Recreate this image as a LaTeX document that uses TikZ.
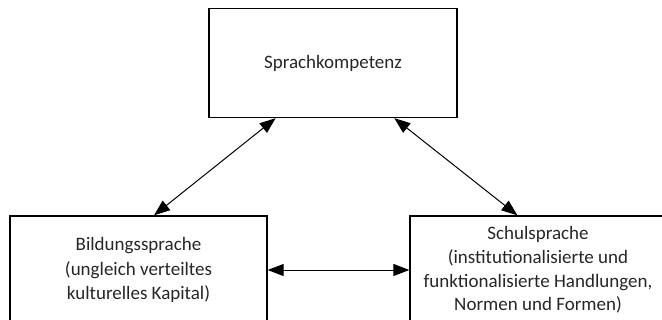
\documentclass[tikz,border=0pt]{standalone}
\usepackage{fontspec}
\setmainfont{Carlito}
\usetikzlibrary{arrows.meta,calc}

\begin{document}
\begin{tikzpicture}
[   x=0.5pt, y=-0.5pt,
    box/.style={draw, line width=0.65pt, rectangle, align=center, inner sep=0,
        text=black!85, font=\fontsize{9.5pt}{11.8pt}\selectfont},
    dblarrow/.style={line width=0.5pt,
        {Triangle[length=8pt,width=6pt]}-{Triangle[length=8pt,width=6pt]}}
]
    \useasboundingbox (0,0) rectangle (662,320);
    \clip (0,0) rectangle (662,320);

    \node[box, minimum width=124pt, minimum height=54.5pt] (kompetenz) at (333,63)
        {Sprachkompetenz};
    \node[box, minimum width=128.5pt, minimum height=54pt,
        font=\fontsize{9.5pt}{12.3pt}\selectfont] (bildung) at (138.5,270)
        {Bildungssprache\\(ungleich verteiltes\\kulturelles Kapital)};
    \node[box, minimum width=128pt, minimum height=54pt] (schule) at (538,270)
        {Schulsprache\\(institutionalisierte und\\funktionalisierte Handlungen,\\Normen und Formen)};

    % Verbindungen
    \draw[dblarrow] ($(kompetenz.south west)!0.27!(kompetenz.south east)$)
        -- ($(bildung.north west)!0.56!(bildung.north east)$);
    \draw[dblarrow] ($(kompetenz.south west)!0.746!(kompetenz.south east)$)
        -- ($(schule.north west)!0.42!(schule.north east)$);
    \draw[dblarrow] (bildung.east) -- (schule.west);
\end{tikzpicture}
\end{document}
